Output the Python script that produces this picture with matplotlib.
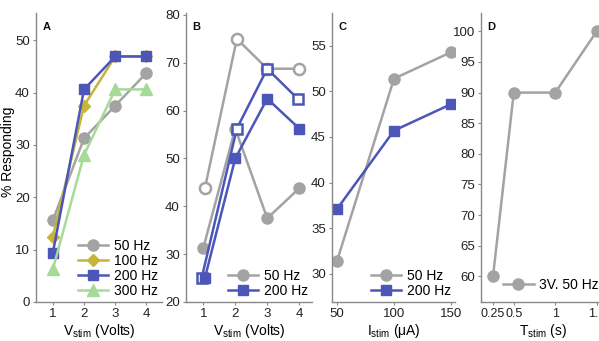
import matplotlib
matplotlib.use("Agg")
import matplotlib.pyplot as plt

plt.rcParams['font.family'] = ['Liberation Sans', 'DejaVu Sans']
plt.rcParams['mathtext.default'] = 'regular'

# ---- Data ----
# Panel A
volts = [1, 2, 3, 4]
a_50 = [15.6, 31.25, 37.5, 43.75]
a_100 = [12.5, 37.5, 46.9, 46.9]
a_200 = [9.4, 40.6, 46.9, 46.9]
a_300 = [6.25, 28.1, 40.6, 40.6]

# Panel B
b_x_filled = [1.0, 2.0, 3.0, 4.0]
b_x_open = [1.05, 2.05, 3.0, 4.0]
b_x_sq_open = [0.95, 2.05, 3.0, 3.95]
b_50_filled = [31.25, 56.25, 37.5, 43.75]
b_50_open = [43.75, 75.0, 68.75, 68.75]
b_200_filled = [1.05, 2.0, 3.0, 4.0]
b_200_filled_y = [25.0, 50.0, 62.5, 56.25]
b_200_open_y = [25.0, 56.25, 68.75, 62.5]

# Panel C
current = [50, 100, 150]
c_50 = [31.4, 51.4, 54.3]
c_200 = [37.1, 45.7, 48.6]

# Panel D
durations = [0.25, 0.5, 1.0, 1.5]
d_vals = [60, 90, 90, 100]
d_ticks = [0.25, 0.5, 1, 1.5]
d_ticklabels = ['0.25', '0.5', '1', '1.5']

GRAY = '#a3a3a3'
OLIVE = '#c6b43c'
BLUE = '#4b56b8'
GREEN = '#a6da97'

FS = 9.5

W, H = 599, 341
fig = plt.figure(figsize=(W / 100, H / 100), dpi=100)

def make_ax(l, r, b=302, t=13):
    return fig.add_axes([l / W, (H - b) / H, (r - l) / W, (b - t) / H])

def style(ax, letter):
    for s in ['top', 'right']:
        ax.spines[s].set_visible(False)
    for s in ['left', 'bottom']:
        ax.spines[s].set_color('#888888')
        ax.spines[s].set_linewidth(1.0)
    ax.tick_params(direction='out', length=2.5, width=0.8, color='#888888',
                   labelsize=FS, labelcolor='#222222', pad=2)
    ax.text(0.05, 0.97, letter, transform=ax.transAxes, fontsize=8,
            fontweight='bold', va='top', ha='left', color='#111111')

lw = 1.8
ms = 8

def leg(ax, **kw):
    ax.legend(loc='lower right', frameon=False, fontsize=FS + 0.5, handlelength=2.2,
              handletextpad=0.4, labelspacing=0.06, borderaxespad=0.1,
              borderpad=0.2, **kw)

# Panel A
axA = make_ax(36, 162)
axA.plot(volts, a_50, '-o', color=GRAY, lw=lw, ms=ms, label='50 Hz')
axA.plot(volts, a_100, '-D', color=OLIVE, lw=lw, ms=6.5, label='100 Hz')
axA.plot(volts, a_200, '-s', color=BLUE, lw=lw, ms=7, label='200 Hz')
axA.plot(volts, a_300, '-^', color=GREEN, lw=lw, ms=8, label='300 Hz')
axA.set_xlim(0.46, 4.5)
axA.set_ylim(0, 55.2)
axA.set_xticks(volts)
axA.set_yticks([0, 10, 20, 30, 40, 50])
axA.set_xlabel('V$_{stim}$ (Volts)', fontsize=FS + 0.5, labelpad=1)
axA.set_ylabel('% Responding', fontsize=FS + 0.5)
axA.yaxis.set_label_coords(-21 / 126, 0.52)
style(axA, 'A')
leg(axA)

# Panel B
axB = make_ax(186, 312)
axB.plot(b_x_open, b_50_open, '-o', color=GRAY, lw=lw, ms=ms, mfc='white',
         mew=1.8)
axB.plot(b_x_filled, b_50_filled, '-o', color=GRAY, lw=lw, ms=ms, label='50 Hz')
axB.plot(b_x_sq_open, b_200_open_y, '-s', color=BLUE, lw=lw, ms=7, mfc='white',
         mew=1.8)
axB.plot(b_200_filled, b_200_filled_y, '-s', color=BLUE, lw=lw, ms=7,
         label='200 Hz')
axB.set_xlim(0.46, 4.4)
axB.set_ylim(20, 80.4)
axB.set_xticks(volts)
axB.set_yticks([20, 30, 40, 50, 60, 70, 80])
axB.set_xlabel('V$_{stim}$ (Volts)', fontsize=FS + 0.5, labelpad=1)
style(axB, 'B')
leg(axB)

# Panel C
axC = make_ax(332, 455)
axC.plot(current, c_50, '-o', color=GRAY, lw=lw, ms=ms, label='50 Hz')
axC.plot(current, c_200, '-s', color=BLUE, lw=lw, ms=7, label='200 Hz')
axC.set_xlim(45.6, 153.5)
axC.set_ylim(26.9, 58.6)
axC.set_xticks(current)
axC.set_yticks([30, 35, 40, 45, 50, 55])
axC.set_xlabel('I$_{stim}$ (μA)', fontsize=FS + 0.5, labelpad=1)
style(axC, 'C')
leg(axC)

# Panel D
axD = make_ax(481, 605)
axD.plot(durations, d_vals, '-o', color=GRAY, lw=lw, ms=ms, label='3V. 50 Hz',
         clip_on=False)
axD.set_xlim(0.105, 1.6)
axD.set_ylim(55.8, 103)
axD.set_xticks(d_ticks)
axD.set_xticklabels(d_ticklabels)
axD.set_yticks([60, 65, 70, 75, 80, 85, 90, 95, 100])
axD.set_xlabel('T$_{stim}$ (s)', fontsize=FS + 0.5, labelpad=1)
style(axD, 'D')
axD.tick_params(axis='x', labelsize=FS - 0.5)
axD.legend(loc='lower left', bbox_to_anchor=(0.1, 0.0), frameon=False,
           fontsize=FS + 0.5, handlelength=2.2, handletextpad=0.4, borderpad=0.2)

fig.savefig('out.png', dpi=100)
